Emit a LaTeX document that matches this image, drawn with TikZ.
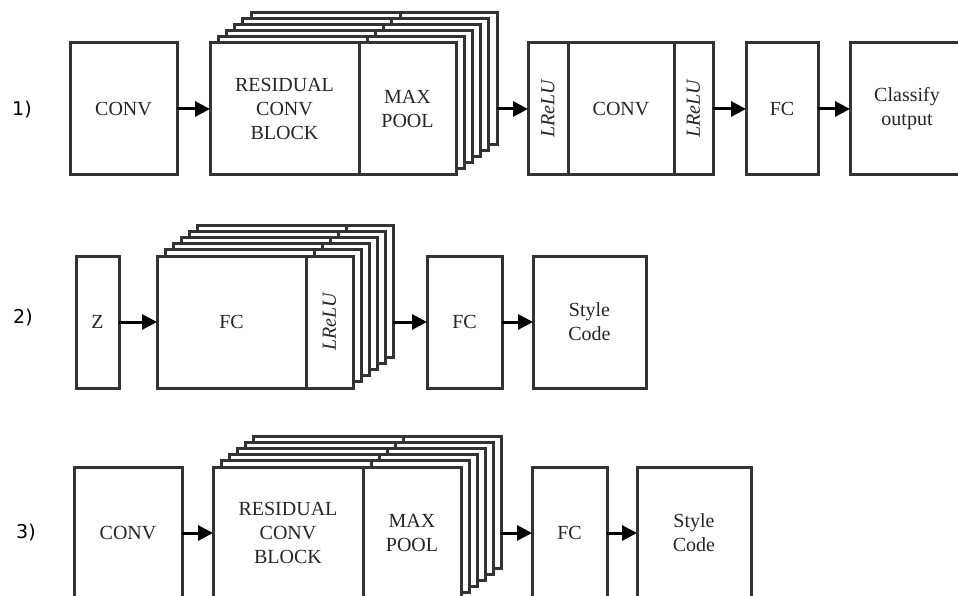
\documentclass[tikz,border=0pt]{standalone}
\usepackage{fontspec}
\usepackage{graphicx}
\setmainfont{Liberation Serif}
\newfontfamily\numfont{DejaVu Sans}
\usetikzlibrary{arrows.meta}
\definecolor{edge}{HTML}{333333}
\definecolor{ink}{HTML}{262626}
\tikzset{
  blk/.style={draw=edge, line width=3pt, fill=white, inner sep=0pt, outer sep=0pt,
    align=center, text=ink, font=\fontsize{20}{24}\selectfont, anchor=north west,
    minimum height=132pt},
  flow/.style={line width=3pt, -{Triangle[length=15pt,width=15pt]}, black},
  rowlab/.style={font=\numfont\fontsize{19}{21}\selectfont, text=black}
}
\newcommand{\bx}[5]{\node[blk, minimum width=#4pt] (#1) at (#2,#3) {#5};}
\newcommand{\lrl}{\rotatebox{90}{\itshape LReLU}}
\begin{document}
\begin{tikzpicture}[x=1pt,y=-1pt]
\useasboundingbox (0,0) rectangle (958,596);

% ---------- row 1 ----------
\node[rowlab] (lab1) at (22,110) {1)};
\bx{conv1}{70}{43}{107}{CONV}
\foreach \k in {5,4,3,2,1} {
  \node[blk, minimum width=149pt] (s1L\k) at ({210+8.2*\k},{43-6*\k}) {};
  \node[blk, minimum width=97pt] (s1R\k) at ({359+8.2*\k},{43-6*\k}) {};
}
\bx{res1}{210}{43}{149}{RESIDUAL\\CONV\\BLOCK}
\bx{pool1}{359}{43}{97}{MAX\\POOL}
\bx{lr1a}{528}{43}{40}{\lrl}
\bx{conv1b}{568}{43}{106}{CONV}
\bx{lr1b}{674}{43}{39}{\lrl}
\bx{fc1}{746}{43}{72}{FC}
\bx{cls1}{850}{43}{114}{Classify\\output}
\draw[flow] (conv1.east) -- (res1.west);
\draw[flow] (s1R5.east |- pool1.east) -- (lr1a.west);
\draw[flow] (lr1b.east) -- (fc1.west);
\draw[flow] (fc1.east) -- (cls1.west);

% ---------- row 2 ----------
\node[rowlab] (lab2) at (23,318) {2)};
\bx{z2}{76}{256}{43}{Z}
\foreach \k in {5,4,3,2,1} {
  \node[blk, minimum width=149pt] (s2L\k) at ({157+8*\k},{256-6.2*\k}) {};
  \node[blk, minimum width=47pt] (s2R\k) at ({306+8*\k},{256-6.2*\k}) {};
}
\bx{fc2a}{157}{256}{149}{FC}
\bx{lr2}{306}{256}{47}{\lrl}
\bx{fc2b}{427}{256}{75}{FC}
\bx{sty2}{533}{256}{113}{Style\\Code}
\draw[flow] (z2.east) -- (fc2a.west);
\draw[flow] (s2R5.east |- lr2.east) -- (fc2b.west);
\draw[flow] (fc2b.east) -- (sty2.west);

% ---------- row 3 ----------
\node[rowlab] (lab3) at (26,533) {3)};
\bx{conv3}{74}{467}{108}{CONV}
\foreach \k in {5,4,3,2,1} {
  \node[blk, minimum width=150pt] (s3L\k) at ({213+8*\k},{467-6.2*\k}) {};
  \node[blk, minimum width=98pt] (s3R\k) at ({363+8*\k},{467-6.2*\k}) {};
}
\bx{res3}{213}{467}{150}{RESIDUAL\\CONV\\BLOCK}
\bx{pool3}{363}{467}{98}{MAX\\POOL}
\bx{fc3}{532}{467}{75}{FC}
\bx{sty3}{637}{467}{114}{Style\\Code}
\draw[flow] (conv3.east) -- (res3.west);
\draw[flow] (s3R5.east |- pool3.east) -- (fc3.west);
\draw[flow] (fc3.east) -- (sty3.west);
\end{tikzpicture}
\end{document}
